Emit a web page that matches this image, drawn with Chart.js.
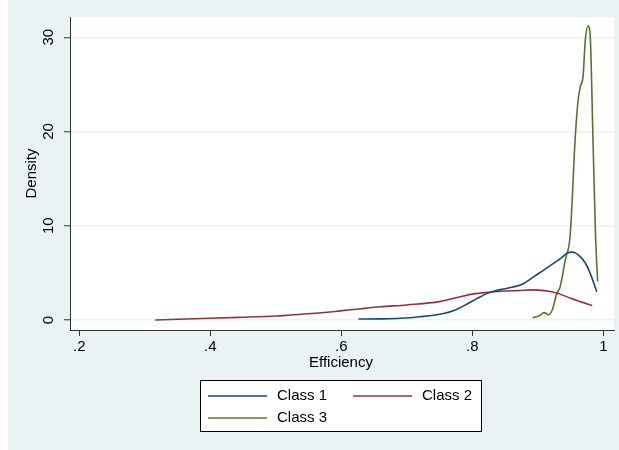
<!DOCTYPE html>
<html>
<head>
<meta charset="utf-8">
<script src="https://cdn.jsdelivr.net/npm/chart.js@4/dist/chart.umd.min.js"></script>
<style>
  html, body { margin: 0; padding: 0; background: #fff; }
  #wrap { width: 619px; height: 450px; }
</style>
</head>
<body>
<div id="wrap"><canvas id="densityCanvas" width="619" height="450"></canvas></div>
<script>
// Kernel density estimates
const seriesNames = ['Class 1', 'Class 2', 'Class 3'];

const class1X = [0.626, 0.66, 0.69, 0.72, 0.756, 0.775, 0.792, 0.808, 0.822, 0.835, 0.848, 0.862, 0.876, 0.894, 0.909, 0.924, 0.936, 0.945, 0.952, 0.958, 0.965, 0.972, 0.978, 0.984, 0.990];
const class1Y = [0.1, 0.12, 0.18, 0.35, 0.7, 1.1, 1.7, 2.3, 2.8, 3.1, 3.3, 3.5, 3.8, 4.6, 5.3, 6.0, 6.6, 7.1, 7.2, 7.1, 6.7, 6.1, 5.3, 4.2, 3.0];

const class2X = [0.316, 0.35, 0.4, 0.444, 0.5, 0.522, 0.56, 0.598, 0.63, 0.66, 0.7, 0.75, 0.78, 0.8, 0.825, 0.85, 0.87, 0.89, 0.91, 0.93, 0.95, 0.965, 0.983];
const class2Y = [0.0, 0.08, 0.18, 0.28, 0.42, 0.53, 0.72, 0.97, 1.2, 1.4, 1.6, 1.95, 2.45, 2.75, 2.95, 3.08, 3.12, 3.2, 3.12, 2.85, 2.3, 1.95, 1.55];

const class3X = [0.892, 0.898, 0.904, 0.909, 0.913, 0.916, 0.922, 0.929, 0.934, 0.942, 0.949, 0.952, 0.956, 0.961, 0.965, 0.969, 0.9725, 0.9766, 0.980, 0.984, 0.988, 0.9913];
const class3Y = [0.24, 0.35, 0.5, 0.78, 0.7, 0.53, 1.06, 2.8, 3.5, 6.4, 8.7, 12.0, 18.0, 23.0, 24.8, 25.8, 29.7, 31.2, 30.1, 19.8, 9.2, 4.1];

const xTicks = [0.2, 0.4, 0.6, 0.8, 1];
const yTicks = [0, 10, 20, 30];
const xTitle = 'Efficiency';
const yTitle = 'Density';

const colors = ['#1a476f', '#90353b', '#55752f'];
const FONT = '15px "Liberation Sans", Arial, sans-serif';

function pts(xs, ys) {
  return xs.map((x, i) => ({ x: x, y: ys[i] }));
}

// Stata style labels: .2 .4 ... 1
function fmtX(v) {
  if (v === 1) return '1';
  return String(v).replace(/^0/, '');
}

const stataPlugin = {
  id: 'stata',
  beforeDraw(chart) {
    const ctx = chart.ctx;
    const a = chart.chartArea;
    ctx.save();
    ctx.fillStyle = '#ffffff';
    ctx.fillRect(0, 0, chart.width, chart.height);
    ctx.fillStyle = '#eaf2f3';
    ctx.fillRect(8, 0, chart.width - 8, chart.height);
    ctx.fillStyle = '#ffffff';
    ctx.fillRect(a.left, a.top, a.right - a.left, a.bottom - a.top);
    ctx.restore();
  },
  afterDraw(chart) {
    const ctx = chart.ctx;
    const xs = chart.scales.x;
    const ys = chart.scales.y;
    const a = chart.chartArea;
    ctx.save();
    ctx.fillStyle = '#000';
    ctx.font = FONT;

    // x tick labels
    ctx.textAlign = 'center';
    ctx.textBaseline = 'middle';
    xTicks.forEach(v => {
      ctx.fillText(fmtX(v), xs.getPixelForValue(v), 347);
    });
    ctx.fillText(xTitle, (a.left + a.right) / 2 - 1, 363);

    // y tick labels, rotated
    yTicks.forEach(v => {
      ctx.save();
      ctx.translate(49, ys.getPixelForValue(v));
      ctx.rotate(-Math.PI / 2);
      ctx.fillText(String(v), 0, 0);
      ctx.restore();
    });
    ctx.save();
    ctx.translate(32, (a.top + a.bottom) / 2);
    ctx.rotate(-Math.PI / 2);
    ctx.fillText(yTitle, 0, 0);
    ctx.restore();

    // legend box
    ctx.fillStyle = '#ffffff';
    ctx.fillRect(201, 381, 281, 51);
    ctx.strokeStyle = '#000';
    ctx.lineWidth = 1;
    ctx.strokeRect(200.5, 380.5, 281, 51);
    const slots = [[208, 396], [353, 396], [208, 418]];
    ctx.textAlign = 'left';
    seriesNames.forEach((name, i) => {
      const [lx, ly] = slots[i];
      ctx.strokeStyle = colors[i];
      ctx.lineWidth = 1.5;
      ctx.beginPath();
      ctx.moveTo(lx, ly);
      ctx.lineTo(lx + 59, ly);
      ctx.stroke();
      ctx.fillStyle = '#000';
      ctx.fillText(name, lx + 69, ly);
    });
    ctx.restore();
  }
};

const ctx = document.getElementById('densityCanvas').getContext('2d');

new Chart(ctx, {
  type: 'line',
  data: {
    datasets: [
      { label: seriesNames[0], data: pts(class1X, class1Y), borderColor: colors[0] },
      { label: seriesNames[1], data: pts(class2X, class2Y), borderColor: colors[1] },
      { label: seriesNames[2], data: pts(class3X, class3Y), borderColor: colors[2] },
    ].map(d => Object.assign(d, {
      borderWidth: 1.6,
      pointRadius: 0,
      fill: false,
      cubicInterpolationMode: 'monotone',
    })),
  },
  options: {
    responsive: false,
    animation: false,
    layout: { padding: { top: 17, right: 5, left: 0, bottom: 0 } },
    plugins: {
      legend: { display: false },
      tooltip: { enabled: false },
    },
    scales: {
      x: {
        type: 'linear',
        min: 0.1858,
        max: 1.0163,
        afterFit: s => { s.height = 120; },
        afterBuildTicks: s => { s.ticks = xTicks.map(v => ({ value: v })); },
        ticks: { display: false },
        grid: { drawOnChartArea: false, drawTicks: true, tickLength: 6, tickColor: '#333', tickWidth: 1 },
        border: { color: '#333', width: 1 },
      },
      y: {
        type: 'linear',
        min: -1.06,
        max: 32.15,
        afterFit: s => { s.width = 70; },
        afterBuildTicks: s => { s.ticks = yTicks.map(v => ({ value: v })); },
        ticks: { display: false },
        grid: { color: '#eaf2f3', lineWidth: 1.5, drawTicks: true, tickLength: 6, tickColor: '#333', tickWidth: 1 },
        border: { color: '#333', width: 1 },
      },
    },
  },
  plugins: [stataPlugin],
});
</script>
</body>
</html>
